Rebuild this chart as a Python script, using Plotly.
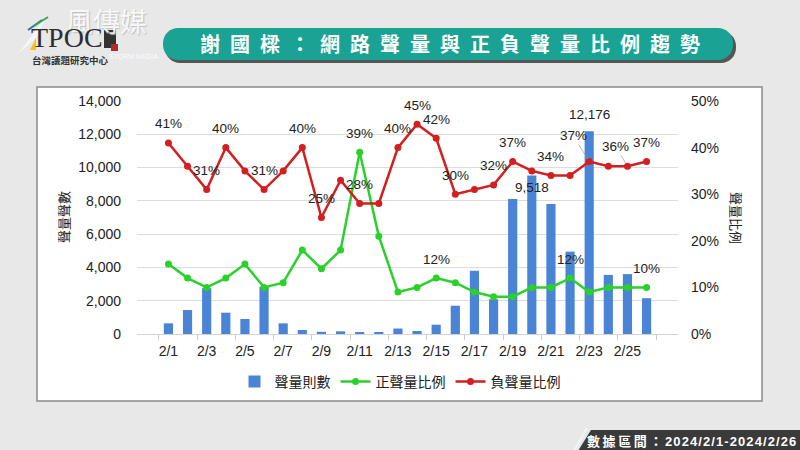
import plotly.graph_objects as go

# ---------------- data ----------------
dates = ["2/1", "2/2", "2/3", "2/4", "2/5", "2/6", "2/7", "2/8", "2/9", "2/10",
         "2/11", "2/12", "2/13", "2/14", "2/15", "2/16", "2/17", "2/18", "2/19",
         "2/20", "2/21", "2/22", "2/23", "2/24", "2/25", "2/26"]
volume = [640, 1440, 2750, 1280, 900, 2850, 640, 240, 130, 160, 90, 90, 330,
          180, 560, 1700, 3800, 2090, 8110, 9518, 7810, 4950, 12176, 3550, 3600, 2150]
pos_pct = [15, 12, 10, 12, 15, 10, 11, 18, 14, 18, 39, 21, 9, 10, 12, 11, 9, 8,
           8, 10, 10, 12, 9, 10, 10, 10]
neg_pct = [41, 36, 31, 40, 35, 31, 35, 40, 25, 33, 28, 28, 40, 45, 42, 30, 31,
           32, 37, 35, 34, 34, 37, 36, 36, 37]
vol_label_days = ["2/20", "2/23"]
pos_label_days = ["2/11", "2/15", "2/22", "2/26"]
neg_label_days = ["2/1", "2/3", "2/4", "2/6", "2/8", "2/9", "2/11", "2/13", "2/14",
                  "2/15", "2/16", "2/18", "2/19", "2/21", "2/23", "2/25", "2/26"]
title_chars = ["謝", "國", "樑", "：", "網", "路", "聲", "量", "與", "正", "負",
               "聲", "量", "比", "例", "趨", "勢"]
period_label = "數據區間："
period_range = "2024/2/1-2024/2/26"

# ---------------- style ----------------
BLUE = "#4a84d6"
GREEN = "#2bd12b"
RED = "#d21f1f"
TEAL = "#1aa395"
BG = "#e8e8e8"
NUM_FONT = "Liberation Sans, Noto Sans CJK TC, sans-serif"
CJK_FONT = "Noto Sans CJK TC, sans-serif"

W, H = 800, 450
L, R, T, B = 137, 122, 101, 116
PW, PH = W - L - R, H - T - B


def px(x):
    return (x - L) / PW


def py(y):
    return (H - B - y) / PH


def pt(x, y):
    return f"{px(x):.5f},{py(y):.5f}"


def rounded_rect(x0, y0, x1, y1, r):
    k = 0.5523 * r
    return (f"M {pt(x0 + r, y0)} L {pt(x1 - r, y0)} "
            f"C {pt(x1 - r + k, y0)} {pt(x1, y0 + r - k)} {pt(x1, y0 + r)} "
            f"L {pt(x1, y1 - r)} "
            f"C {pt(x1, y1 - r + k)} {pt(x1 - r + k, y1)} {pt(x1 - r, y1)} "
            f"L {pt(x0 + r, y1)} "
            f"C {pt(x0 + r - k, y1)} {pt(x0, y1 - r + k)} {pt(x0, y1 - r)} "
            f"L {pt(x0, y0 + r)} "
            f"C {pt(x0, y0 + r - k)} {pt(x0 + r - k, y0)} {pt(x0 + r, y0)} Z")


def paper_text(x, y, text, font, **kw):
    d = dict(x=px(x), y=py(y), xref="paper", yref="paper", text=text, showarrow=False,
             xanchor="center", yanchor="middle", font=font)
    d.update(kw)
    return d


fig = go.Figure()
fig.add_trace(go.Bar(x=dates, y=volume, name="聲量則數", marker_color=BLUE,
                     marker_line_width=0, yaxis="y"))
fig.add_trace(go.Scatter(x=dates, y=[v / 100 for v in pos_pct], name="正聲量比例",
                         mode="lines+markers", line=dict(color=GREEN, width=2.5),
                         marker=dict(size=7, color=GREEN), yaxis="y2"))
fig.add_trace(go.Scatter(x=dates, y=[v / 100 for v in neg_pct], name="負聲量比例",
                         mode="lines+markers", line=dict(color=RED, width=2.5),
                         marker=dict(size=7, color=RED), yaxis="y2"))

ann = []
lab_font = dict(family=NUM_FONT, size=13.5, color="#222")
for d in neg_label_days:
    i = dates.index(d)
    a = dict(x=d, y=neg_pct[i] / 100, xref="x", yref="y2", text=f"{neg_pct[i]}%",
             font=lab_font, showarrow=False, yshift=19, xanchor="center", yanchor="middle")
    if d == "2/23":
        a.update(showarrow=True, ax=-16, ay=-26, arrowhead=0, arrowwidth=0.7,
                 arrowcolor="#999", standoff=3, yshift=0)
    if d == "2/25":
        a.update(showarrow=True, ax=-12, ay=-20, arrowhead=0, arrowwidth=0.7,
                 arrowcolor="#999", standoff=3, yshift=0)
    ann.append(a)
for d in pos_label_days:
    i = dates.index(d)
    ann.append(dict(x=d, y=pos_pct[i] / 100, xref="x", yref="y2", text=f"{pos_pct[i]}%",
                    font=lab_font, showarrow=False, yshift=19,
                    xanchor="center", yanchor="middle"))
for d in vol_label_days:
    i = dates.index(d)
    ann.append(dict(x=d, y=volume[i], xref="x", yref="y", text=f"{volume[i]:,}",
                    font=lab_font, showarrow=False, xanchor="center", yanchor="middle",
                    yshift=(17 if d == "2/23" else -12)))

# axis titles
ann.append(paper_text(63, 217, "聲量聲數", dict(family=CJK_FONT, size=13, color="#222"),
                      textangle=-90))
ann.append(paper_text(737, 218, "聲量比例", dict(family=CJK_FONT, size=13, color="#222"),
                      textangle=90))
# title (letter-spaced with en spaces)
ann.append(paper_text(450, 44, "<b>" + "\u2002".join(title_chars) + "</b>",
                      dict(family=CJK_FONT, size=20, color="white")))
# period tag
ann.append(paper_text(798, 441, "<b>" + "\u2009".join(period_label) + "\u2009"
                      + "\u200a".join(period_range) + "</b>",
                      dict(family=NUM_FONT, size=13, color="white"), xanchor="right"))
# logo
ann.append(paper_text(106, 21, "風傳媒",
                      dict(family=CJK_FONT, size=27, color="rgba(255,255,255,0.85)",
                           shadow="1px 1px 1px #b8b8b8")))
ann.append(paper_text(134, 56, "STORM MEDIA",
                      dict(family=NUM_FONT, size=7, color="rgba(255,255,255,0.9)")))
ann.append(paper_text(67, 37, "TPOC",
                      dict(family="Liberation Serif, serif", size=28, color="#2e2e2e")))
ann.append(paper_text(70, 60, "<b>台灣議題研究中心</b>",
                      dict(family=CJK_FONT, size=9.5, color="#333")))

shapes = [
    # white chart box
    dict(type="rect", xref="paper", yref="paper", x0=px(37), x1=px(762), y0=py(401), y1=py(87),
         fillcolor="white", line=dict(color="#8a8a8a", width=1.5), layer="below"),
    # banner shadow + banner
    dict(type="path", xref="paper", yref="paper", path=rounded_rect(165, 31, 736, 63, 15),
         fillcolor="#555", line=dict(width=0), layer="below"),
    dict(type="path", xref="paper", yref="paper", path=rounded_rect(163, 28, 733, 60, 15),
         fillcolor=TEAL, line=dict(width=0), layer="below"),
    # bottom-right tag
    dict(type="path", xref="paper", yref="paper",
         path=f"M {pt(578, 451)} L {pt(591, 430)} L {pt(801, 430)} L {pt(801, 451)} Z",
         fillcolor="#3a3a3a", line=dict(width=0), layer="below"),
    dict(type="line", xref="paper", yref="paper", x0=px(574), y0=py(451), x1=px(587), y1=py(428),
         line=dict(color="#f4f4f4", width=2), layer="below"),
    # logo accents
    dict(type="path", xref="paper", yref="paper",
         path=f"M {pt(18, 54)} L {pt(48, 14)} L {pt(36, 38)} Z",
         fillcolor="#f6f6f6", line=dict(width=0), layer="below"),
    dict(type="line", xref="paper", yref="paper", x0=px(28), y0=py(30), x1=px(42), y1=py(20),
         line=dict(color="#2a6fb5", width=2), layer="below"),
    dict(type="line", xref="paper", yref="paper", x0=px(34), y0=py(26), x1=px(48), y1=py(17),
         line=dict(color="#3aa35a", width=2), layer="below"),
    dict(type="path", xref="paper", yref="paper",
         path=f"M {pt(30, 50)} L {pt(36, 38)} L {pt(36, 50)} Z",
         fillcolor="#f2c318", line=dict(width=0), layer="below"),
    dict(type="rect", xref="paper", yref="paper", x0=px(104), x1=px(116), y0=py(48), y1=py(30),
         fillcolor="#333", line=dict(width=0), layer="below"),
    dict(type="rect", xref="paper", yref="paper", x0=px(111), x1=px(118), y0=py(51), y1=py(44),
         fillcolor="#b22a2a", line=dict(width=0), layer="below"),
]

fig.update_layout(
    width=W, height=H, margin=dict(l=L, r=R, t=T, b=B),
    paper_bgcolor=BG, plot_bgcolor="white",
    bargap=0.52, showlegend=True,
    legend=dict(orientation="h", x=px(400), xanchor="center", y=py(382), yanchor="middle",
                font=dict(family=CJK_FONT, size=14, color="#222"), bgcolor="rgba(0,0,0,0)",
                itemwidth=30, traceorder="normal"),
    xaxis=dict(type="category", tickmode="linear", tick0=0, dtick=2, tickson="boundaries",
               ticks="outside", ticklen=5, tickcolor="#c8c8c8", showline=True,
               linecolor="#d4d4d4", linewidth=1, showgrid=False, tickangle=0,
               tickfont=dict(family=NUM_FONT, size=14, color="#222"), ticklabelstandoff=4),
    yaxis=dict(range=[0, 14000], dtick=2000, tickformat=",", showgrid=True, gridcolor="#dcdcdc",
               zeroline=False, tickfont=dict(family=NUM_FONT, size=14, color="#222"),
               ticklabelstandoff=15),
    yaxis2=dict(range=[0, 0.5], dtick=0.1, tickformat=".0%", overlaying="y", side="right",
                showgrid=False, zeroline=False,
                tickfont=dict(family=NUM_FONT, size=14, color="#222"), ticklabelstandoff=12),
    annotations=ann, shapes=shapes,
)

fig.write_html("out.html", config={"displayModeBar": False})
